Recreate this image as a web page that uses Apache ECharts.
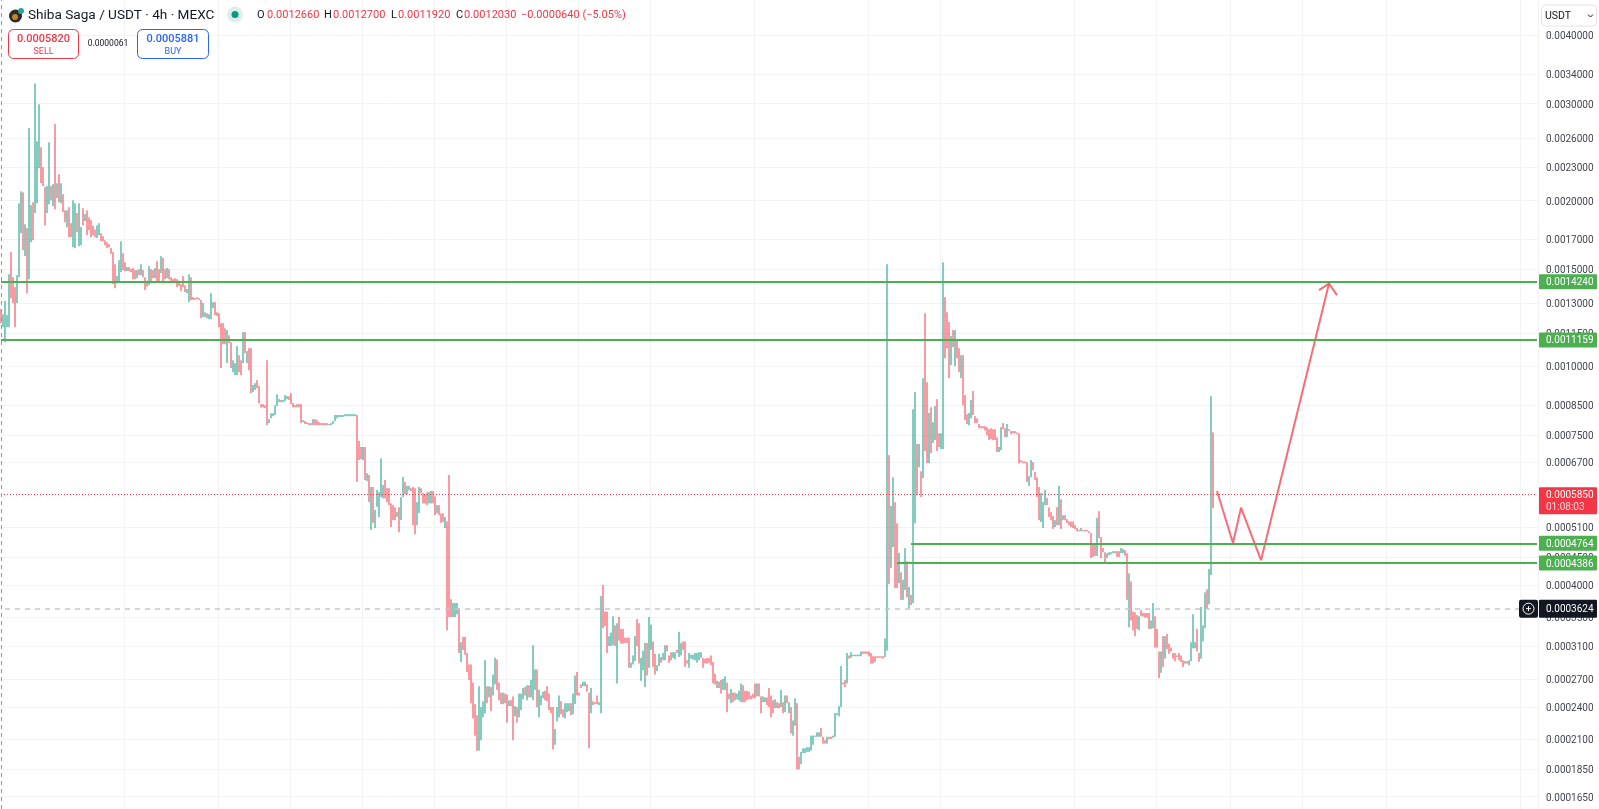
<!DOCTYPE html>
<html>
<head>
<meta charset="utf-8">
<title>Shiba Saga / USDT</title>
<script src="https://cdn.jsdelivr.net/npm/echarts@6/dist/echarts.min.js"></script>
<style>
html, body { margin: 0; padding: 0; background: #fff; }
#chart { width: 1599px; height: 809px; }
</style>
</head>
<body>
<div id="chart"></div>
<script>
// candle rows are [open, close] in millionths of a USDT
var firstPump = [
[1269,1197],[1177,1243],[1105,1313],[1177,1238],[1177,1469],[1612,1329],[1451,1302],[1392,1177],[1302,1463],[1451,1977],
[1745,2079],[2070,1625],[1585,1811],[1782,1357],[1439,2708],[1680,1962],[1986,1694],[1898,3265],[1977,2563],[2290,2992],
[2499,2150],[2300,2125],[2117,1803],[1898,2125],[1969,2552],[2125,2002],[1953,2141],[2753,1928],[2020,2150],[2233,1986],
[1977,2150],[2054,1905],[1920,1827],[1789,1920],[1945,1716],[1819,1716],[1645,2002],[1639,1977],[1898,1752],[1652,1977],
[1660,1790],[1937,1803],[1835,1890],[1920,1730],[1865,1768],[1843,1716],[1800,1730],[1772,1716],[1710,1803],[1730,1819],
[1745,1687],[1722,1687],[1694,1659],[1680,1639],[1665,1645],[1639,1600],[1612,1410],[1532,1386],[1414,1458],[1421,1558],
[1482,1687],[1605,1495],[1545,1488],[1488,1514],[1514,1488],[1501,1482]
];
var slowBleed = [
[1508,1439],[1495,1439],[1445,1495],[1501,1463],[1463,1532],[1495,1451],[1451,1375],[1430,1395],[1403,1520],[1501,1415],
[1495,1445],[1445,1508],[1552,1421],[1501,1421],[1476,1585],[1572,1415],[1500,1440],[1445,1508],[1501,1439],[1451,1421],
[1440,1420],[1445,1415],[1439,1392],[1430,1400],[1410,1369],[1458,1392],[1403,1364],[1357,1381],[1307,1469],[1451,1319],
[1335,1319],[1330,1320],[1335,1324],[1329,1319],[1319,1222],[1228,1302],[1228,1253],[1248,1222],[1217,1243],[1217,1357],
[1275,1307],[1307,1238],[1253,1233],[1248,1177],[1197,992],[1197,1096],[1172,1096],[1013,1163],[1138,1101],[1105,992],
[975,1025],[963,1013],[963,1087],[1047,975],[1025,963],[1013,1153],[1153,1056],[1013,1065],[1078,983]
];
var plateau = [
[1078,893],[897,924],[905,931],[943,912],[920,856],[853,842],[853,842],[849,839],[1025,781],[788,801],
[804,821],[811,821],[815,849],[846,889],[860,871],[868,860],[860,868],[864,886],[871,882],[882,868],
[893,853],[857,842],[849,842],[853,842],[853,842],[853,788],[791,798],[795,785],[791,785],[788,781],
[788,781],[781,801],[801,781],[798,781],[791,781],[788,781],[788,781],[788,781],[788,781],[781,785],
[781,788],[785,795],[795,815],[804,815],[808,815],[808,815],[808,815],[811,818],[811,818],[811,818],
[811,818],[811,818],[811,818],[815,616],[731,675],[713,678],[675,713],[713,621],[618,639],[634,566],
[504,603],[603,519],[508,548],[555,596],[532,590],[578,680],[575,608],[621,575],[600,566],[600,559],
[563,510],[559,525],[554,525],[532,543],[554,499],[525,578],[578,629],[616,585],[585,606],[595,606],
[600,593],[603,514],[600,495],[514,566],[541,603],[600,588],[588,563],[585,563],[590,559],[563,590],
[563,593],[593,563],[580,536],[540,559],[559,536],[540,519],[540,521],[508,532],[522,331],[634,350]
];
var baseRange = [
[377,350],[350,371],[350,371],[354,371],[363,301],[290,315],[322,305],[322,299],[301,278],[287,269],
[287,244],[266,229],[243,213],[232,200],[200,262],[209,240],[230,246],[234,292],[262,244],[250,262],
[261,236],[252,275],[264,295],[293,258],[266,247],[255,243],[243,255],[254,244],[253,225],[241,247],
[247,241],[251,209],[231,241],[240,225],[230,254],[237,254],[248,260],[261,252],[247,263],[263,250],
[250,269],[247,311],[258,281],[281,240],[230,258],[242,252],[249,256],[257,247],[262,246],[254,237],
[240,234],[240,201],[205,219],[226,240],[230,252],[246,233],[238,230],[229,244],[235,244],[236,244],
[244,232],[233,254],[243,274],[278,252],[255,252],[264,260],[262,267],[262,267],[264,256],[255,202],
[234,260],[246,242],[245,243],[252,243],[242,245],[234,382],[400,334],[358,337],[358,301],[310,323],
[310,328],[311,351],[338,310],[265,341],[350,317],[333,313],[333,313],[321,314],[321,314],[321,283],
[283,289],[287,298],[291,323],[347,310],[341,288],[268,295],[280,304],[261,314],[314,274],[283,350],
[305,339],[316,284],[300,275],[279,286],[285,300],[296,289],[292,301],[292,311],[311,303],[298,289],
[302,292],[295,302],[293,302],[305,301],[296,329],[298,314],[316,305],[316,284],[292,288],[283,301],
[294,299],[293,299],[292,301],[289,301],[292,302],[295,302],[295,283],[294,288],[295,288],[295,289]
];
var secondBase = [
[298,286],[290,265],[276,264],[268,260],[260,267],[269,254],[258,270],[258,273],[266,235],[254,248],
[244,259],[255,245],[255,247],[248,254],[247,257],[245,265],[263,245],[257,245],[257,247],[256,248],
[252,248],[254,249],[265,249],[251,265],[265,251],[251,234],[245,251],[245,250],[250,242],[260,240],
[252,230],[247,234],[239,248],[245,239],[244,239],[240,258],[245,234],[235,252],[252,244],[234,245],
[240,215],[213,227],[222,249],[244,185],[195,185],[189,199],[198,202],[198,202],[199,203],[199,203],
[200,213],[205,213],[212,213],[212,216],[212,216],[220,212],[212,206],[209,206],[206,212],[212,210],
[212,210],[211,213],[212,234],[232,234],[231,241],[240,285],[266,264],[269,261],[265,301],[298,294],
[295,302],[297,299],[297,299],[297,299],[297,299],[297,303],[303,300],[303,300],[303,300],[303,297],
[301,288],[297,288],[297,290],[297,295],[297,295],[297,295],[297,294],[296,320],[304,1532]
];
var spikeTop = [
[689,402],[430,557],[469,628],[566,395],[518,395],[403,458],[422,376],[376,409],[392,467],[442,380],
[363,397],[384,368],[371,835],[518,897],[722,583],[655,722],[644,578],[626,951],[1248,701],[935,666],
[666,822],[842,695],[725,791],[734,846],[871,701],[755,713],[707,755],[707,1545],[1335,1034],[1253,1078],
[1202,951],[1004,1134],[1163,1083],[1000,1163],[1115,1034],[1078,975],[951,1047],[1047,849],[886,798],[818,785],
[781,822],[804,868],[901,815],[811,788],[804,788],[785,771],[778,771],[778,771],[778,764],[775,749],
[768,734],[771,737],[768,734],[768,734],[743,698],[698,713],[704,775],[788,768],[771,743],[743,785],
[768,762],[762,752],[762,755],[762,755],[758,752],[755,666],[675,669],[671,666],[671,666],[669,616],
[606,631],[629,675],[669,647],[642,621],[628,578],[603,525],[521,588],[508,566],[559,596],[576,559],
[554,532],[543,525],[534,506],[510,525],[554,514],[514,606],[573,506],[525,536],[536,525],[527,519],[522,514]
];
var lastLeg = [
[522,510],[522,508],[514,506],[508,501],[504,501],[501,508],[504,501],[504,501],[504,501],[501,497],
[497,448],[473,450],[473,452],[452,530],[545,487],[489,448],[467,459],[459,438],[448,457],[453,459],
[455,459],[457,461],[457,461],[461,450],[461,450],[457,467],[457,465],[463,452],[457,376],[335,420],
[406,345],[358,331],[357,323],[353,333],[331,351],[360,351],[356,351],[356,349],[356,349],[356,333],
[333,345],[334,371],[351,308],[333,308],[303,271],[277,303],[323,284],[294,323],[326,306],[313,300],
[308,303],[301,294],[301,291],[298,296],[301,292],[298,290],[292,284],[291,288],[291,288],[286,292],
[291,315],[307,354],[307,315],[333,303],[301,290],[294,365],[316,338],[334,388],[393,362],[369,428],
[417,882],[758,552]
];

var priceTicks = [0.004, 0.0034, 0.003, 0.0026, 0.0023, 0.002, 0.0017, 0.0015, 0.0013, 0.00115, 0.001, 0.00085,
    0.00075, 0.00067, 0.00051, 0.00045, 0.0004, 0.00035, 0.00031, 0.00027, 0.00024, 0.00021, 0.000185, 0.000165];
var resistanceLevels = [0.001424, 0.0011159];
var supportLevels = [0.0004764, 0.0004386];
var supportStarts = [455, 448];
var lastPrice = 0.000585;
var crossPrice = 0.0003624;
// forecast sketch: bar slot and price of each corner, then the arrow head
var sketchSlots = [608, 616, 620, 630, 664];
var sketchPrices = [593, 477, 553, 444, 1413];
var arrowSlots = [659, 664, 668];
var arrowPrices = [1375, 1413, 1346];
// slots where the time grid has a line
var gridSlots = [62, 109, 145, 181, 217, 253, 289, 325, 377, 434, 470, 537, 578, 615, 651, 693, 760];
var slotCount = 769;

var UP = '#089981';
var DOWN = '#f23645';
var GRID = '#f2f3f5';
var FONT = 'Roboto, sans-serif';

var rows = [].concat(firstPump, slowBleed, plateau, baseRange, secondBase, spikeTop, lastLeg);
var candles = rows.map(function (r) {
    var o = r[0] / 1e6;
    var c = r[1] / 1e6;
    return [o, c, Math.min(o, c), Math.max(o, c)];
});
var categories = [];
for (var i = 0; i < slotCount; i++) {
    categories.push(String(i));
}
function toPoints(slots, prices) {
    return slots.map(function (s, j) {
        return [s, prices[j] / 1e6];
    });
}

function fixed(v) {
    return v.toFixed(7);
}

var levelLines = [];
resistanceLevels.forEach(function (v) {
    levelLines.push([{xAxis: '0', yAxis: v}, {xAxis: String(slotCount - 1), yAxis: v}]);
});
supportLevels.forEach(function (v, j) {
    levelLines.push([{xAxis: String(supportStarts[j]), yAxis: v}, {xAxis: String(slotCount - 1), yAxis: v}]);
});

var sketchLine = {color: '#f7525f', width: 2, opacity: 0.85};

var chart = echarts.init(document.getElementById('chart'));
chart.setOption({
    animation: false,
    backgroundColor: '#ffffff',
    textStyle: {fontFamily: FONT},
    grid: {left: 0, right: 61, top: 0, bottom: 0},
    xAxis: {
        type: 'category',
        data: categories,
        axisLine: {show: false},
        axisTick: {show: false},
        axisLabel: {show: false},
        splitLine: {
            show: true,
            interval: function (idx) {
                return gridSlots.indexOf(idx) >= 0;
            },
            lineStyle: {color: GRID, width: 1}
        }
    },
    yAxis: {
        type: 'log',
        position: 'right',
        min: 0.0001567,
        max: 0.00463,
        axisLine: {show: false},
        axisTick: {show: false, customValues: priceTicks},
        axisLabel: {
            customValues: priceTicks,
            margin: 8,
            // the labels sit a little under their grid lines
            verticalAlign: 'top',
            lineHeight: 3,
            color: '#434651',
            fontSize: 10,
            fontFamily: FONT,
            formatter: function (v) {
                return fixed(v);
            }
        },
        splitLine: {show: true, lineStyle: {color: GRID, width: 1}}
    },
    series: [{
        type: 'candlestick',
        data: candles,
        // near zero body: both edges snap to one pixel column, so a candle is a 1px stroke
        barWidth: 0.01,
        itemStyle: {color: UP, color0: DOWN, borderColor: UP, borderColor0: DOWN, borderWidth: 1},
        markLine: {
            silent: true,
            symbol: 'none',
            label: {show: false},
            data: levelLines.map(function (pair) {
                pair[0].lineStyle = {color: '#4caf50', width: 2, type: 'solid'};
                return pair;
            }).concat([
                [{xAxis: '0', yAxis: lastPrice, lineStyle: {color: DOWN, width: 1, type: [1, 2]}},
                    {xAxis: String(slotCount - 1), yAxis: lastPrice}],
                [{xAxis: '2', yAxis: crossPrice, lineStyle: {color: '#c4c6ce', width: 1.5, type: [5, 5]}},
                    {xAxis: '759', yAxis: crossPrice}],
                {xAxis: '0', lineStyle: {color: '#9598a1', width: 1, type: [4, 4]}}
            ])
        }
    }, {
        type: 'line',
        data: toPoints(sketchSlots, sketchPrices),
        showSymbol: false,
        silent: true,
        lineStyle: sketchLine,
        z: 4
    }, {
        type: 'line',
        data: toPoints(arrowSlots, arrowPrices),
        showSymbol: false,
        silent: true,
        lineStyle: sketchLine,
        z: 4
    }]
});

// price tags on the axis and the header are placed after the scale exists
function yOf(v) {
    return chart.convertToPixel({yAxisIndex: 0}, v);
}
function priceTag(v, color, h) {
    var y = yOf(v);
    return [{
        type: 'rect',
        shape: {x: 1539, y: y - h / 2, width: 58, height: h, r: 1},
        style: {fill: color},
        z: 20
    }, {
        type: 'text',
        x: 1546,
        y: y + 1,
        style: {text: fixed(v), fill: '#ffffff', font: '10px ' + FONT, verticalAlign: 'middle'},
        z: 21
    }];
}
function label(x, y, text, color, font, align) {
    return {
        type: 'text',
        x: x,
        y: y,
        style: {text: text, fill: color, font: font, verticalAlign: 'middle', align: align || 'left'},
        z: 21
    };
}

var els = [];
resistanceLevels.concat(supportLevels).forEach(function (v) {
    els = els.concat(priceTag(v, '#4caf50', 15));
});
els = els.concat(priceTag(crossPrice, '#131722', 18));

var lastY = yOf(lastPrice);
els.push({
    type: 'rect',
    shape: {x: 1539, y: lastY - 7, width: 58, height: 27, r: 1},
    style: {fill: DOWN},
    z: 20
});
els.push(label(1546, lastY + 1, fixed(lastPrice), '#ffffff', '10px ' + FONT));
els.push(label(1546, lastY + 13, '01:08:03', '#ffd5d8', '10px ' + FONT));

// crosshair plus button
var crossY = yOf(crossPrice);
els.push({type: 'rect', shape: {x: 1519, y: crossY - 9, width: 19, height: 18, r: 2}, style: {fill: '#131722'}, z: 20});
els.push({type: 'circle', shape: {cx: 1528.5, cy: crossY, r: 5.5}, style: {fill: 'none', stroke: '#ffffff', lineWidth: 1}, z: 21});
els.push({type: 'line', shape: {x1: 1526, y1: crossY, x2: 1531, y2: crossY}, style: {stroke: '#ffffff', lineWidth: 1}, z: 21});
els.push({type: 'line', shape: {x1: 1528.5, y1: crossY - 2.5, x2: 1528.5, y2: crossY + 2.5}, style: {stroke: '#ffffff', lineWidth: 1}, z: 21});

// currency button
els.push({type: 'rect', shape: {x: 1541.5, y: 5, width: 55, height: 21, r: 4}, style: {fill: '#ffffff', stroke: '#e0e3eb', lineWidth: 1}, z: 20});
els.push(label(1545, 16, 'USDT', '#131722', '10.5px ' + FONT));
els.push({type: 'polyline', shape: {points: [[1588, 14.5], [1590.5, 17], [1593, 14.5]]}, style: {fill: 'none', stroke: '#131722', lineWidth: 1}, z: 21});

// symbol header
els.push({type: 'circle', shape: {cx: 15.5, cy: 16, r: 6.5}, style: {fill: '#2b2b2b'}, z: 20});
els.push({type: 'circle', shape: {cx: 15, cy: 17, r: 3}, style: {fill: '#c9822e'}, z: 21});
els.push({type: 'circle', shape: {cx: 21, cy: 11, r: 3}, style: {fill: '#26a69a'}, z: 21});
els.push(label(28, 15.5, 'Shiba Saga / USDT · 4h · MEXC', '#131722', '13.6px ' + FONT));
els.push({type: 'circle', shape: {cx: 235, cy: 14.5, r: 8}, style: {fill: '#dcefeb'}, z: 20});
els.push({type: 'circle', shape: {cx: 235, cy: 14.5, r: 3.5}, style: {fill: UP}, z: 21});
els.push(label(257, 15.5, 'O', '#131722', '11px ' + FONT));
els.push(label(267, 15.5, '0.0012660', DOWN, '11px ' + FONT));
els.push(label(324, 15.5, 'H', '#131722', '11px ' + FONT));
els.push(label(333, 15.5, '0.0012700', DOWN, '11px ' + FONT));
els.push(label(391, 15.5, 'L', '#131722', '11px ' + FONT));
els.push(label(398, 15.5, '0.0011920', DOWN, '11px ' + FONT));
els.push(label(456, 15.5, 'C', '#131722', '11px ' + FONT));
els.push(label(464, 15.5, '0.0012030', DOWN, '11px ' + FONT));
els.push(label(521, 15.5, '\u22120.0000640 (\u22125.05%)', DOWN, '11px ' + FONT));

// sell and buy boxes
els.push({type: 'rect', shape: {x: 8.5, y: 29.5, width: 70, height: 29, r: 5}, style: {fill: '#ffffff', stroke: DOWN, lineWidth: 1}, z: 20});
els.push(label(43.5, 39.5, '0.0005820', DOWN, '500 11px ' + FONT, 'center'));
els.push(label(43.5, 52, 'SELL', DOWN, '9px ' + FONT, 'center'));
els.push(label(108, 44, '0.0000061', '#131722', '8.5px ' + FONT, 'center'));
els.push({type: 'rect', shape: {x: 137.5, y: 29.5, width: 71, height: 29, r: 5}, style: {fill: '#ffffff', stroke: '#2962ff', lineWidth: 1}, z: 20});
els.push(label(173, 39.5, '0.0005881', '#2962ff', '500 11px ' + FONT, 'center'));
els.push(label(173, 52, 'BUY', '#2962ff', '9px ' + FONT, 'center'));

chart.setOption({graphic: {elements: els}});
</script>
</body>
</html>
